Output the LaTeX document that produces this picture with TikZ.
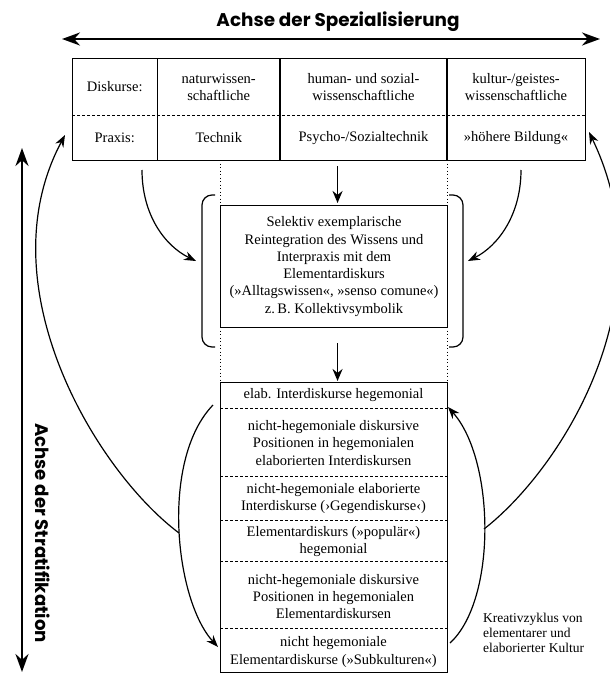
\documentclass[tikz,border=0pt]{standalone}
\usepackage{fontspec}
\usepackage{graphicx}
\setmainfont{Liberation Serif}
\newfontfamily\axisfont{Poppins}
\usetikzlibrary{arrows.meta}
\begin{document}
\begin{tikzpicture}[x=1pt,y=-1pt,
  box/.style={draw, line width=1.1pt, inner sep=0pt},
  txt/.style={align=center, font=\fontsize{14.5}{17.3}\selectfont, inner sep=0pt},
  sep/.style={line width=0.9pt, dash pattern=on 3pt off 2pt},
  dots/.style={line width=0.9pt, dash pattern=on 1.2pt off 2.3pt},
  bigarr/.style={line width=1.8pt, -{Stealth[length=12pt,width=10pt]}},
  carr/.style={line width=1.2pt, -{Stealth[length=12pt,width=9pt]}},
  curve/.style={line width=1.2pt},
  axisarr/.style={line width=2.4pt, {Stealth[length=18pt,width=13pt]}-{Stealth[length=18pt,width=13pt]}}
]
\useasboundingbox (0,0) rectangle (610,675);

% axes
\node (title) at (338,22) {\resizebox{243pt}{!}{\axisfont\bfseries Achse der Spezialisierung}};
\coordinate (hl) at (62,39);
\coordinate (hr) at (600,39);
\draw[axisarr] (hl) -- (hr);
\coordinate (vt) at (22,148);
\coordinate (vb) at (22,672);
\draw[axisarr] (vt) -- (vb);
\node[rotate=-90] (vlab) at (43,533) {\resizebox{220pt}{!}{\axisfont\bfseries Achse der Stratifikation}};

% table
\node[box, minimum width=513pt, minimum height=102pt, anchor=north west] (table) at (72,58) {};
\draw[line width=1.1pt] (157.5,58) -- (157.5,160);
\draw[line width=1.1pt] (280,58) -- (280,160);
\draw[line width=1.1pt] (447,58) -- (447,160);
\draw[sep] (72,115.5) -- (585,115.5);
\node[txt] (d1) at (114.75,87) {Diskurse:};
\node[txt] (d2) at (218.75,87) {naturwissen-\\schaftliche};
\node[txt] (d3) at (363.5,87) {human- und sozial-\\wissenschaftliche};
\node[txt] (d4) at (516,87) {kultur-/geistes-\\wissenschaftliche};
\node[txt] (p1) at (114.75,138) {Praxis:};
\node[txt] (p2) at (218.75,138) {Technik};
\node[txt] (p3) at (363.5,138) {Psycho-/Sozialtechnik};
\node[txt] (p4) at (516,138) {»höhere Bildung«};

% middle box
\node[box, txt, draw, line width=1.1pt, minimum width=227pt, minimum height=122pt, anchor=north west] (mid) at (220,205)
 {Selektiv exemplarische\\Reintegration des Wissens und\\Interpraxis mit dem\\Elementardiskurs\\(»Alltagswissen«, »senso comune«)\\z.\,B. Kollektivsymbolik};
\draw[curve, rounded corners=10pt] (215,195) -- (202,195) -- (202,347) -- (215,347);
\draw[curve, rounded corners=10pt] (449,195) -- (463,195) -- (463,347) -- (449,347);

% bottom box
\node[box, minimum width=227pt, minimum height=290pt, anchor=north west] (bot) at (220,382) {};
\draw[sep] (220,408) -- (447,408);
\draw[sep] (220,476) -- (447,476);
\draw[sep] (220,520) -- (447,520);
\draw[sep] (220,561) -- (447,561);
\draw[sep] (220,628) -- (447,628);
\node[txt] (b1) at (333.5,395) {elab. Interdiskurse hegemonial};
\node[txt] (b2) at (333.5,443) {nicht-hegemoniale diskursive\\Positionen in hegemonialen\\elaborierten Interdiskursen};
\node[txt] (b3) at (333.5,498.5) {nicht-hegemoniale elaborierte\\Interdiskurse (›Gegendiskurse‹)};
\node[txt] (b4) at (333.5,541.5) {Elementardiskurs (»populär«)\\hegemonial};
\node[txt] (b5) at (333.5,596.5) {nicht-hegemoniale diskursive\\Positionen in hegemonialen\\Elementardiskursen};
\node[txt] (b6) at (333.5,652) {nicht hegemoniale\\Elementardiskurse (»Subkulturen«)};

% dotted guides
\draw[dots] (220,160) -- (220,205);
\draw[dots] (220,327) -- (220,382);
\draw[dots] (447,160) -- (447,205);
\draw[dots] (447,327) -- (447,382);

% straight arrows
\draw[bigarr] ([xshift=8.5pt,yshift=-5pt]table.south) -- ([xshift=3.5pt,yshift=2pt]mid.north);
\draw[bigarr] ([xshift=3.5pt,yshift=-15pt]mid.south) -- ([xshift=3.5pt,yshift=1pt]bot.north);

% small curved arrows into the bracket
\coordinate (sl) at (142,170);
\coordinate (el) at (196,261);
\coordinate (sr) at (521,170);
\coordinate (er) at (468,261);
\draw[carr] (sl) .. controls (142,215) and (165,246) .. (el);
\draw[carr] (sr) .. controls (521,215) and (498,246) .. (er);

% creative cycle
\coordinate (l1) at (213,405);
\coordinate (l2) at (218,647);
\coordinate (jl) at (179,533);
\coordinate (tl) at (65,135);
\draw[carr] (l1) .. controls (160,460) and (175,600) .. (l2);
\draw[carr] (jl) .. controls (95,470) and (-15,285) .. (tl);
\coordinate (r1) at (450,643);
\coordinate (r2) at (448,407);
\coordinate (jr) at (484,529);
\coordinate (tr) at (589,132);
\draw[carr] (r1) .. controls (497,600) and (495,460) .. (r2);
\draw[carr] (jr) .. controls (560,470) and (670,300) .. (tr);

\node[align=left, anchor=north west, inner sep=0pt, font=\fontsize{13.5}{15}\selectfont] (kz) at (483,613)
 {Kreativzyklus von\\elementarer und\\elaborierter Kultur};
\end{tikzpicture}
\end{document}
